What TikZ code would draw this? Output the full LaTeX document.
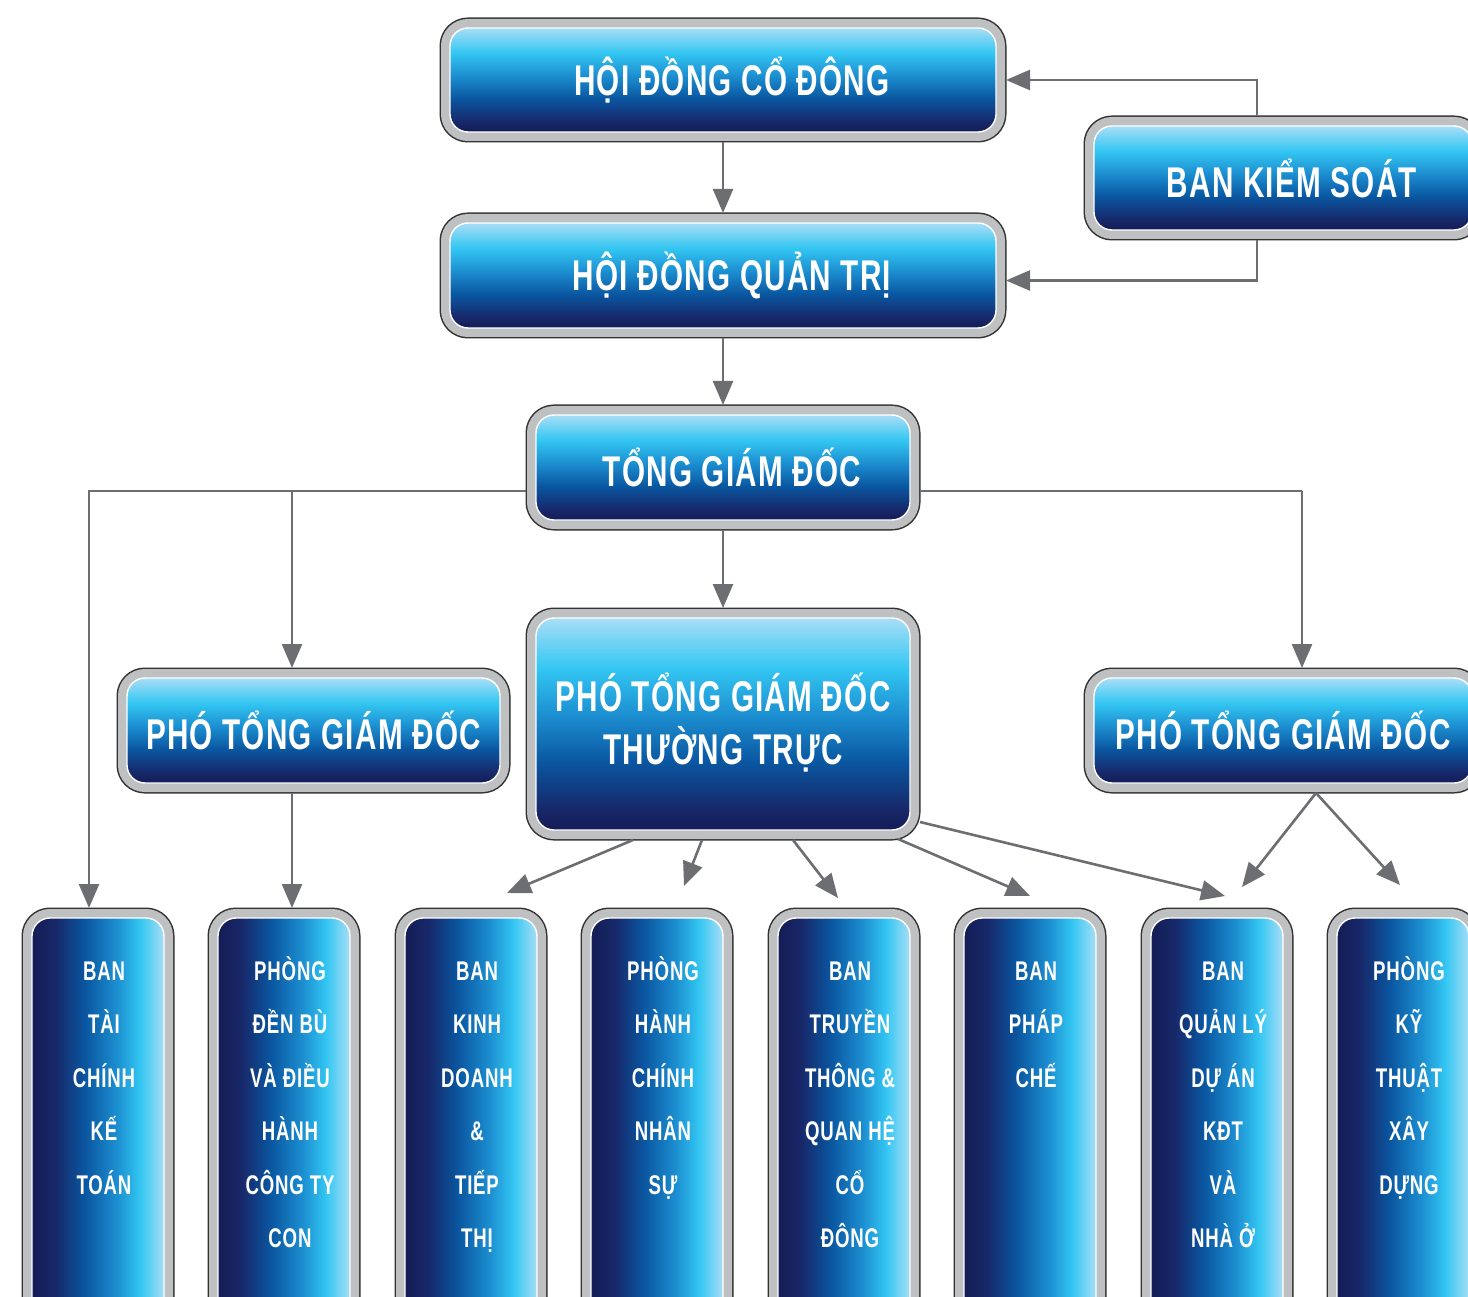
\documentclass[tikz,border=0pt]{standalone}
\usepackage{fontspec}
\setmainfont[FakeStretch=0.69,LetterSpace=3]{Liberation Sans}
\usetikzlibrary{arrows.meta}
\definecolor{bNavy}{HTML}{141C55}
\definecolor{bDark}{HTML}{17286A}
\definecolor{bDeep}{HTML}{0A56A0}
\definecolor{bMid}{HTML}{1C8ED0}
\definecolor{bCyan}{HTML}{33C6F2}
\definecolor{bLight}{HTML}{A8DEF6}
\definecolor{frameEdge}{HTML}{333333}
\definecolor{frameGray}{HTML}{BFC0C2}
\definecolor{lineGray}{HTML}{6D6E71}
\pgfdeclareverticalshading{barshade}{100bp}{color(0bp)=(bNavy); color(25bp)=(bNavy); color(30bp)=(bDark); color(41bp)=(bDeep); color(52bp)=(bMid); color(63bp)=(bCyan); color(75bp)=(bLight); color(100bp)=(bLight)}
\pgfdeclarehorizontalshading{colshade}{100bp}{color(0bp)=(bNavy); color(25bp)=(bNavy); color(34bp)=(bDark); color(45bp)=(bDeep); color(57bp)=(bMid); color(66bp)=(bCyan); color(75bp)=(bLight); color(100bp)=(bLight)}
\newcommand\coltext[1]{\hspace*{12pt}\begin{minipage}[c][402pt][t]{120pt}\centering\vspace*{27pt}\rule{0pt}{35pt}#1\end{minipage}}

\begin{document}
\begin{tikzpicture}[x=1pt,y=-1pt,
frame/.style={rounded corners=18pt, outer sep=10pt, draw=white, line width=1.4pt, preaction={draw=frameEdge, line width=21pt}, preaction={draw=frameGray, line width=18pt}},
bar/.style={frame, shade, shading=barshade, text=white, align=center, inner sep=0pt, font=\fontsize{43}{53}\selectfont\bfseries},
col/.style={frame, shade, shading=colshade, text=white, inner sep=0pt, minimum width=132pt, minimum height=402pt, font=\fontsize{27}{53.5}\selectfont\bfseries},
link/.style={draw=lineGray, line width=2pt},
arr/.style={draw=lineGray, line width=2.6pt, -{Triangle[length=24pt,width=20pt]}}]
\useasboundingbox (0,0) rectangle (1468,1297);
\node[bar, minimum width=546pt, minimum height=104pt] (hdcd) at (723,80) {\hspace*{18pt}HỘI ĐỒNG CỔ ĐÔNG};
\node[bar, minimum width=378pt, minimum height=104pt] (bks) at (1283,178) {\hspace*{18pt}BAN KIỂM SOÁT};
\node[bar, minimum width=546pt, minimum height=105pt] (hdqt) at (723,275.5) {\hspace*{18pt}HỘI ĐỒNG QUẢN TRỊ};
\node[bar, minimum width=374pt, minimum height=105pt] (tgd) at (723,467.5) {\hspace*{18pt}TỔNG GIÁM ĐỐC};
\node[bar, minimum width=374pt, minimum height=212pt] (ptgdtt) at (723,724) {PHÓ TỔNG GIÁM ĐỐC\\THƯỜNG TRỰC\\[-43pt]};
\node[bar, minimum width=373pt, minimum height=105pt] (ptgdL) at (313.5,730.5) {PHÓ TỔNG GIÁM ĐỐC};
\node[bar, minimum width=378pt, minimum height=105pt] (ptgdR) at (1283,730.5) {PHÓ TỔNG GIÁM ĐỐC};
\node[col] (c1) at (98,1119) {\coltext{BAN\\TÀI\\CHÍNH\\KẾ\\TOÁN}};
\node[col] (c2) at (284,1119) {\coltext{PHÒNG\\ĐỀN BÙ\\VÀ ĐIỀU\\HÀNH\\CÔNG TY\\CON}};
\node[col] (c3) at (471,1119) {\coltext{BAN\\KINH\\DOANH\\\&\\TIẾP\\THỊ}};
\node[col] (c4) at (657,1119) {\coltext{PHÒNG\\HÀNH\\CHÍNH\\NHÂN\\SỰ}};
\node[col] (c5) at (844,1119) {\coltext{BAN\\TRUYỀN\\THÔNG \&\\QUAN HỆ\\CỔ\\ĐÔNG}};
\node[col] (c6) at (1030,1119) {\coltext{BAN\\PHÁP\\CHẾ}};
\node[col] (c7) at (1217,1119) {\coltext{BAN\\QUẢN LÝ\\DỰ ÁN\\KĐT\\VÀ\\NHÀ Ở}};
\node[col] (c8) at (1403,1119) {\coltext{PHÒNG\\KỸ\\THUẬT\\XÂY\\DỰNG}};
\coordinate (kx) at (1257,0);
\coordinate (jl) at (292,491);
\coordinate (jr) at (1302,491);
\draw[arr] (bks.north -| kx) |- (hdcd.east);
\draw[arr] (bks.south -| kx) |- ([yshift=-5pt]hdqt.east);
\draw[arr] (hdcd) -- (hdqt);
\draw[arr] (hdqt) -- (tgd);
\draw[arr] (tgd) -- (ptgdtt);
\draw[link] ([yshift=-23.5pt]tgd.west) -| ([xshift=-9pt,yshift=20pt]c1.north);
\draw[arr] ([xshift=-9pt,yshift=21pt]c1.north) -- ([xshift=-9pt]c1.north);
\draw[arr] (jl) -- (jl |- ptgdL.north);
\draw[arr] (ptgdL.south -| jl) -- (c2.north -| jl);
\draw[link] ([yshift=-23.5pt]tgd.east) -| (jr);
\draw[arr] (jr) -- (jr |- ptgdR.north);
\draw[arr] ([xshift=-90pt]ptgdtt.south) -- ([xshift=36pt,yshift=15pt]c3.north);
\draw[arr] ([xshift=-21pt]ptgdtt.south) -- ([xshift=27pt,yshift=22pt]c4.north);
\draw[arr] ([xshift=70pt]ptgdtt.south) -- ([xshift=-6pt,yshift=10pt]c5.north);
\draw[arr] ([xshift=175pt,yshift=1pt]ptgdtt.south) -- ([yshift=12pt]c6.north);
\draw[arr] ([yshift=-98pt]ptgdtt.east) -- ([xshift=8pt,yshift=12pt]c7.north);
\draw[arr] ([xshift=33pt]ptgdR.south) -- ([xshift=25pt,yshift=21pt]c7.north);
\draw[arr] ([xshift=33pt]ptgdR.south) -- ([xshift=-3pt,yshift=23pt]c8.north);
\end{tikzpicture}
\end{document}
